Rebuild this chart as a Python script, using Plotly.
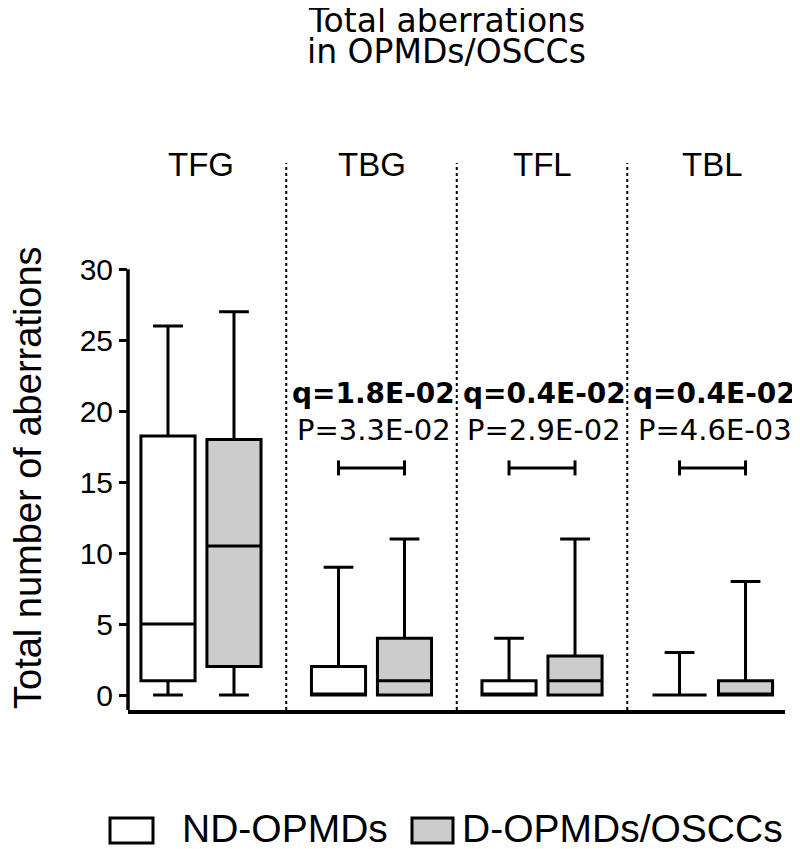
import plotly.graph_objects as go

# ---------------- data ----------------
groups = ["TFG", "TBG", "TFL", "TBL"]

nd_min = [0, 0, 0, 0]
nd_q1 = [1, 0, 0, 0]
nd_med = [5, 0, 0, 0]
nd_q3 = [18.25, 2, 1, 0]
nd_max = [26, 9, 4, 3]

d_min = [0, 0, 0, 0]
d_q1 = [2, 0, 0, 0]
d_med = [10.5, 1, 1, 0]
d_q3 = [18, 4, 2.75, 1]
d_max = [27, 11, 11, 8]

q_labels = ["", "q=1.8E-02", "q=0.4E-02", "q=0.4E-02"]
p_labels = ["", "P=3.3E-02", "P=2.9E-02", "P=4.6E-03"]
sig_level = [None, 16, 16, 16]

y_ticks = [0, 5, 10, 15, 20, 25, 30]
series_names = ["ND-OPMDs", "D-OPMDs/OSCCs"]
series_fill = ["white", "#cccccc"]

# ---------------- layout helpers ----------------
OFF = 8  # page body margin
W, H = 800 - OFF, 849 - OFF
ML, MR, MT, MB = 128 - OFF, 15, 150 - OFF, 139
PW, PH = W - ML - MR, H - MT - MB
Y_MIN, Y_MAX = -1.057, 38.4
X_MIN, X_MAX = -0.428, 3.425


def px_x(p):
    return (p - OFF - ML) / PW


def px_y(p):
    return (H - MB - (p - OFF)) / PH


def yval(p):
    return Y_MIN + (H - MB - (p - OFF)) / PH * (Y_MAX - Y_MIN)


FONT = "Liberation Sans, Arial, Helvetica, sans-serif"
WIDE = "DejaVu Sans, Liberation Sans, Arial, sans-serif"
BLACK = "black"
half = 0.1935  # half distance between box centres within a group

fig = go.Figure()
fig.add_trace(go.Box(
    name=series_names[0], x=groups, q1=nd_q1, median=nd_med, q3=nd_q3,
    lowerfence=nd_min, upperfence=nd_max,
    fillcolor=series_fill[0], line=dict(color=BLACK, width=3),
    whiskerwidth=0.55, boxpoints=False, showlegend=False,
))
fig.add_trace(go.Box(
    name=series_names[1], x=groups, q1=d_q1, median=d_med, q3=d_q3,
    lowerfence=d_min, upperfence=d_max,
    fillcolor=series_fill[1], line=dict(color=BLACK, width=3),
    whiskerwidth=0.55, boxpoints=False, showlegend=False,
))

shapes = []
annotations = []

# y axis line (only from bottom to 30)
shapes.append(dict(type="line", xref="paper", yref="y", x0=0, x1=0,
                   y0=Y_MIN, y1=max(y_ticks), line=dict(color=BLACK, width=3.5)))

# dotted separators between groups
sep_top = yval(163)
for i in range(len(groups) - 1):
    shapes.append(dict(type="line", xref="x", yref="y", x0=i + 0.5, x1=i + 0.5,
                       y0=Y_MIN, y1=sep_top,
                       line=dict(color=BLACK, width=2, dash="dot")))

# group labels
for i, g in enumerate(groups):
    annotations.append(dict(x=i, y=yval(164.5), xref="x", yref="y", text=g,
                            showarrow=False, xanchor="center", yanchor="middle",
                            font=dict(family=FONT, size=33, color=BLACK)))

# significance brackets and labels
tick_h = 0.53
for i, lvl in enumerate(sig_level):
    if lvl is None:
        continue
    x0, x1 = i - half, i + half
    shapes.append(dict(type="line", xref="x", yref="y", x0=x0, x1=x1, y0=lvl, y1=lvl,
                       line=dict(color=BLACK, width=3)))
    for xx in (x0, x1):
        shapes.append(dict(type="line", xref="x", yref="y", x0=xx, x1=xx,
                           y0=lvl - tick_h, y1=lvl + tick_h,
                           line=dict(color=BLACK, width=3)))
    annotations.append(dict(x=i + 0.012, y=yval(393), xref="x", yref="y",
                            text="<b>" + q_labels[i] + "</b>", showarrow=False,
                            xanchor="center", yanchor="middle",
                            font=dict(family=WIDE, size=28, color=BLACK)))
    annotations.append(dict(x=i + 0.012, y=yval(430), xref="x", yref="y",
                            text=p_labels[i], showarrow=False,
                            xanchor="center", yanchor="middle",
                            font=dict(family=WIDE, size=29, color=BLACK)))

# title (two lines)
annotations.append(dict(x=px_x(446), y=px_y(20.5), xref="paper", yref="paper",
                        text="Total aberrations", showarrow=False,
                        xanchor="center", yanchor="middle",
                        font=dict(family=WIDE, size=33, color=BLACK)))
annotations.append(dict(x=px_x(446), y=px_y(52), xref="paper", yref="paper",
                        text="in OPMDs/OSCCs", showarrow=False,
                        xanchor="center", yanchor="middle",
                        font=dict(family=WIDE, size=33, color=BLACK)))

# y axis title
annotations.append(dict(x=px_x(28), y=px_y(478), xref="paper", yref="paper",
                        text="Total number of aberrations", showarrow=False,
                        textangle=-90, xanchor="center", yanchor="middle",
                        font=dict(family=FONT, size=38, color=BLACK)))

# legend (drawn manually to match the large swatches)
legend_items = [(110, 153, 180), (412, 453, 460)]
for (bx0, bx1, tx), name, fill in zip(legend_items, series_names, series_fill):
    shapes.append(dict(type="rect", xref="paper", yref="paper",
                       x0=px_x(bx0), x1=px_x(bx1), y0=px_y(843), y1=px_y(818),
                       fillcolor=fill, line=dict(color=BLACK, width=3)))
    annotations.append(dict(x=px_x(tx), y=px_y(828), xref="paper", yref="paper",
                            text=name, showarrow=False, xanchor="left", yanchor="middle",
                            font=dict(family=FONT, size=39, color=BLACK)))

fig.update_layout(
    width=W, height=H,
    margin=dict(l=ML, r=MR, t=MT, b=MB, pad=0),
    paper_bgcolor="white", plot_bgcolor="white",
    font=dict(family=FONT, color=BLACK),
    boxmode="group", boxgap=0.226, boxgroupgap=0.18,
    showlegend=False,
    shapes=shapes, annotations=annotations,
)
fig.update_xaxes(type="category", categoryorder="array", categoryarray=groups,
                 range=[X_MIN, X_MAX], showticklabels=False, ticks="",
                 showline=True, linecolor=BLACK, linewidth=4,
                 showgrid=False, zeroline=False, fixedrange=True)
fig.update_yaxes(range=[Y_MIN, Y_MAX], tickvals=y_ticks,
                 ticks="outside", ticklen=8, tickwidth=3, tickcolor=BLACK,
                 tickfont=dict(family=FONT, size=30, color=BLACK),
                 showline=False, showgrid=False, zeroline=False, fixedrange=True)

fig.write_html("out.html")
